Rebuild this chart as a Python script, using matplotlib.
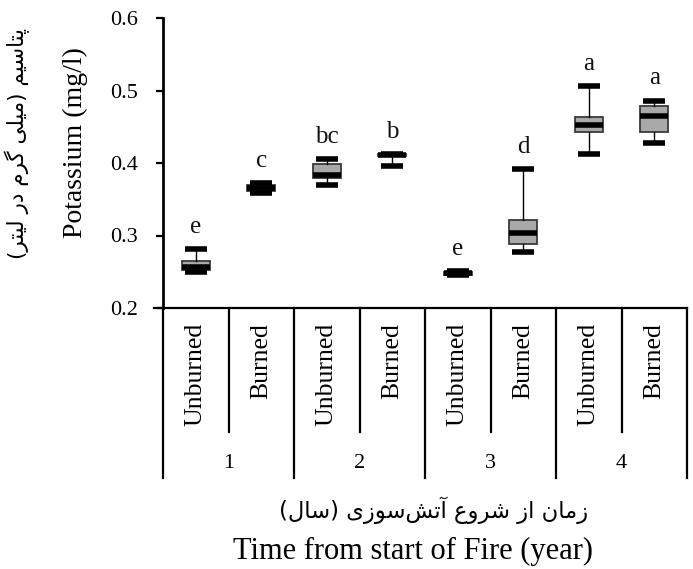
import matplotlib
matplotlib.use("Agg")
import matplotlib.pyplot as plt
from matplotlib.lines import Line2D

# ---------------- data ----------------
years = ["1", "2", "3", "4"]
treatments = ["Unburned", "Burned"]
whisker_low = [0.249, 0.359, 0.369, 0.396, 0.245, 0.277, 0.413, 0.427]
q1 = [0.252, 0.362, 0.379, 0.409, 0.246, 0.288, 0.443, 0.443]
median = [0.257, 0.365, 0.384, 0.411, 0.248, 0.303, 0.452, 0.465]
q3 = [0.265, 0.369, 0.399, 0.413, 0.250, 0.321, 0.463, 0.478]
whisker_high = [0.281, 0.372, 0.405, 0.412, 0.251, 0.392, 0.506, 0.486]
letters = ["e", "c", "bc", "b", "e", "d", "a", "a"]
y_ticks = [0.2, 0.3, 0.4, 0.5, 0.6]

# Persian labels (shaped presentation forms, visual left-to-right order)
ylabel_fa = ("(" + "\uFEAE\uFE98\uFBFF\uFEDF" + " " + "\uFEAD\uFEA9" + " " +
             "\uFEE1\uFEAE\uFB94" + " " + "\uFBFD\uFEE0\uFBFF\uFEE3" + ")" + " " +
             "\uFEE2\uFBFF\uFEB3\uFE8E\uFE98\uFB58")
xlabel_fa = ("(" + "\uFEDD\uFE8E\uFEB3" + ")" + " " +
             "\uFBFC\uFEAF\uFEEE\uFEB3" + "\uFEB6\uFE97\uFE81" + " " +
             "\uFEC9\uFEED\uFEAE\uFEB7" + " " + "\uFEAF\uFE8D" + " " +
             "\uFEE5\uFE8E\uFEE3\uFEAF")
ylabel_en = "Potassium (mg/l)"
xlabel_en = "Time from start of Fire (year)"

# ---------------- figure ----------------
W, H = 693, 569
fig = plt.figure(figsize=(W / 100, H / 100), dpi=100)
ax_l, ax_r, ax_t, ax_b = 163, 687, 18, 308
ax = fig.add_axes([ax_l / W, 1 - ax_b / H, (ax_r - ax_l) / W, (ax_b - ax_t) / H])
ax_h = ax_b - ax_t
ax_w = ax_r - ax_l

serif = ["Liberation Serif", "DejaVu Serif"]

n = len(median)
positions = list(range(n))
stats = []
for i in range(n):
    stats.append(dict(whislo=whisker_low[i], q1=q1[i], med=median[i], q3=q3[i],
                      whishi=whisker_high[i], fliers=[]))

ax.bxp(stats, positions=positions, widths=0.42, capwidths=0.34, patch_artist=True,
       showfliers=False,
       boxprops=dict(facecolor="#a9a9a9", edgecolor="#3a3a3a", linewidth=1.3),
       medianprops=dict(color="black", linewidth=4.0, solid_capstyle="butt"),
       whiskerprops=dict(color="black", linewidth=1.0),
       capprops=dict(color="black", linewidth=4.0, solid_capstyle="butt"))

for i in range(n):
    ax.annotate(letters[i], xy=(positions[i], whisker_high[i]), xytext=(0, 16),
                textcoords="offset points", ha="center", va="center",
                fontsize=18, family=serif, color="#111111")

ax.set_xlim(-0.5, n - 0.5)
ax.set_ylim(0.2, 0.6)
ax.set_yticks(y_ticks)
ax.set_yticklabels([f"{v:.1f}" for v in y_ticks], fontsize=16, family=serif)
ax.set_xticks([])
ax.tick_params(axis="y", direction="out", length=5, width=1.6, pad=13, color="black")
for s in ["top", "right", "bottom"]:
    ax.spines[s].set_visible(False)
ax.spines["left"].set_linewidth(2.0)

lw = 1.6
# horizontal category line (x axis)
ax.add_line(Line2D([-9 / ax_w, 1], [0, 0], transform=ax.transAxes, color="black",
                   lw=lw, clip_on=False))
# vertical separators
trans = ax.get_xaxis_transform()
for k in range(len(years) + 1):
    x = -0.5 + 2 * k
    ax.add_line(Line2D([x, x], [0, -170 / ax_h], transform=trans, color="black",
                       lw=lw, clip_on=False))
for k in range(len(years)):
    x = 0.5 + 2 * k
    ax.add_line(Line2D([x, x], [0, -124 / ax_h], transform=trans, color="black",
                       lw=lw, clip_on=False))

# treatment labels
for i in range(n):
    ax.text(positions[i], -15 / ax_h, treatments[i % 2], transform=trans, rotation=90,
            ha="center", va="top", fontsize=18.5, family=serif)
# year labels
for k, y in enumerate(years):
    ax.text(0.5 + 2 * k, -155 / ax_h, y, transform=trans, ha="center", va="center",
            fontsize=16, family=serif)

# axis titles
fig.text(75 / W, 1 - 143 / H, ylabel_en, rotation=90, ha="center", va="center",
         fontsize=20, family=serif)
fig.text(17 / W, 1 - 143 / H, ylabel_fa, rotation=90, ha="center", va="center",
         fontsize=15.5, family=["DejaVu Sans"])
fig.text(434 / W, 1 - 510 / H, xlabel_fa, ha="center", va="center",
         fontsize=16.3, family=["DejaVu Sans"])
fig.text(413 / W, 1 - 551 / H, xlabel_en, ha="center", va="center",
         fontsize=22, family=serif)

fig.savefig("out.png", dpi=100)
